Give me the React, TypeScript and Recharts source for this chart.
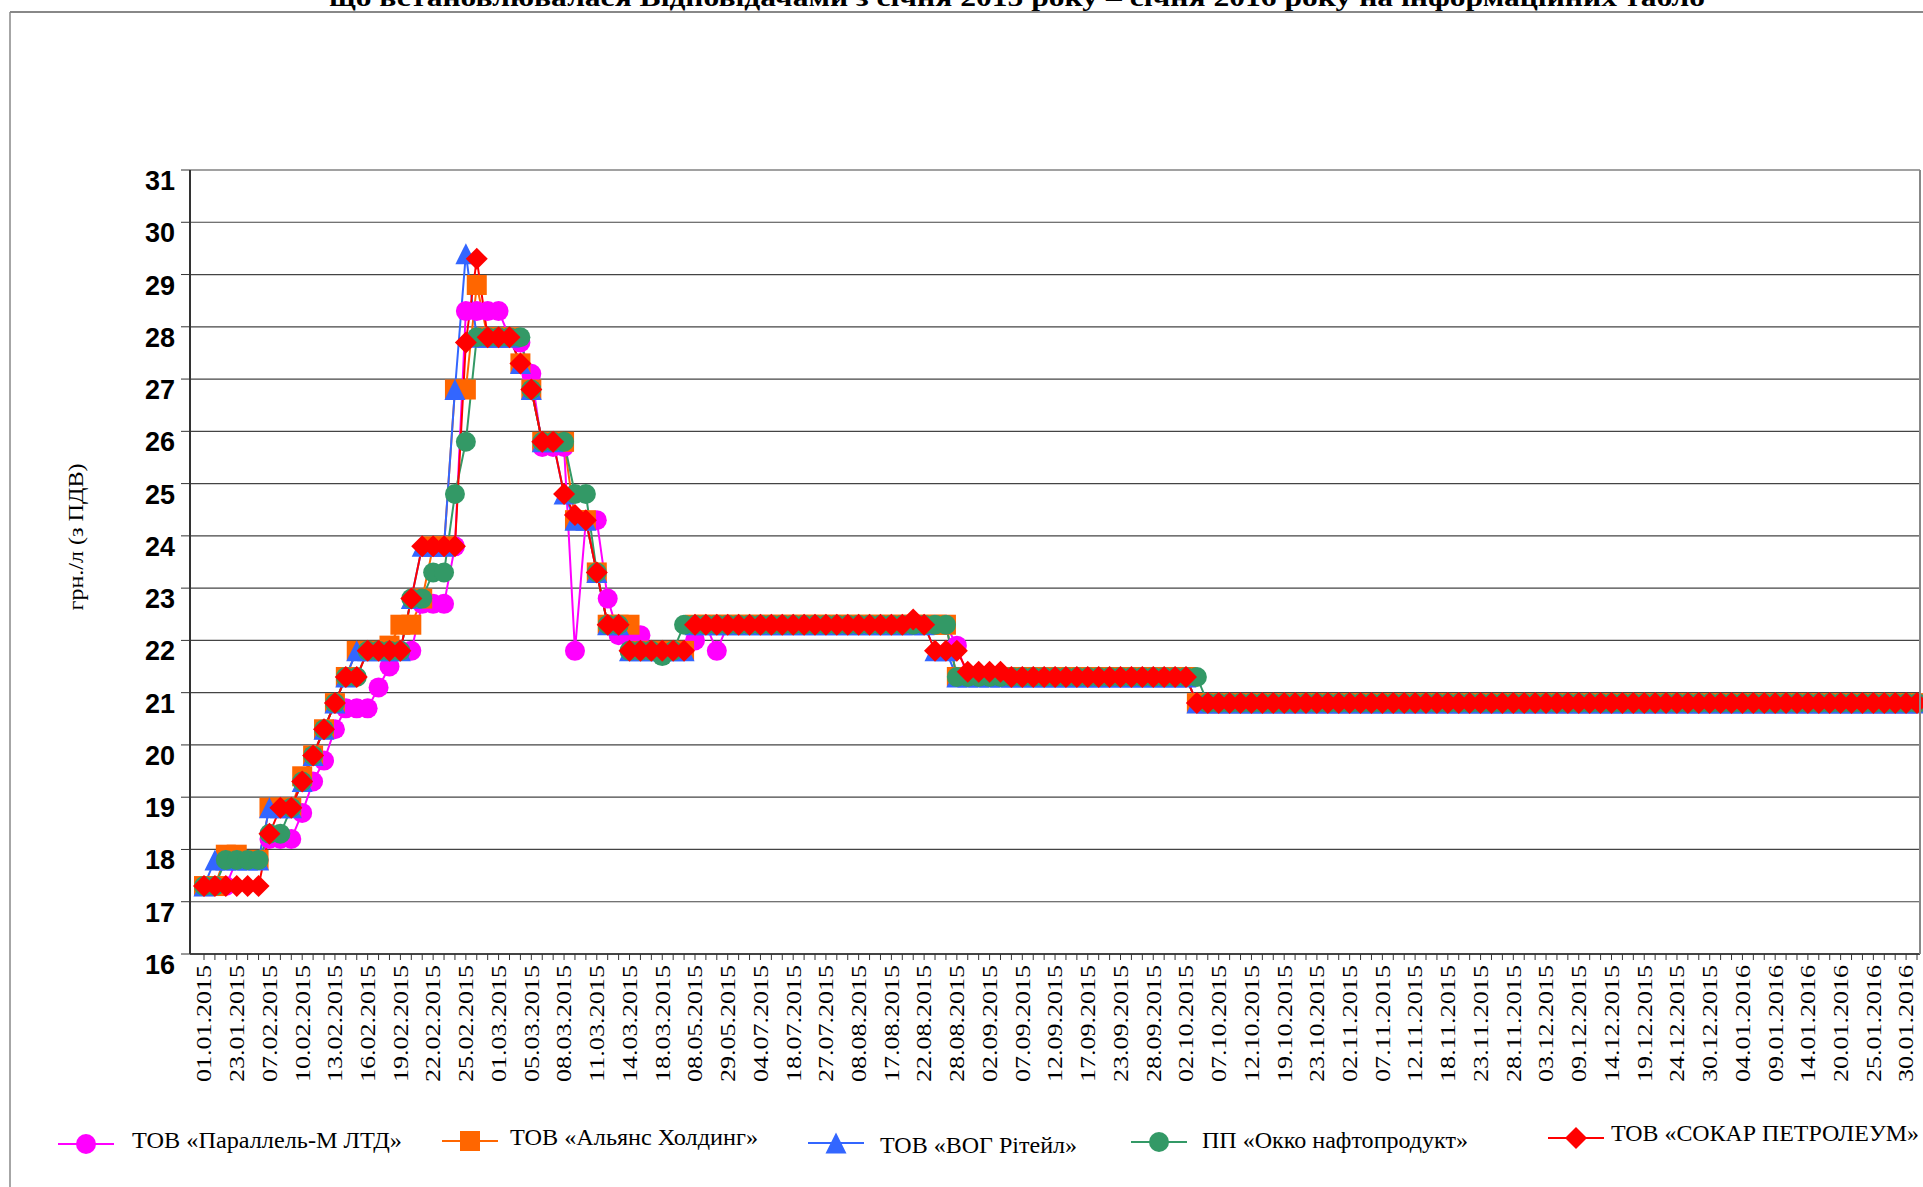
import React from 'react';
import { LineChart, Line, XAxis, YAxis, CartesianGrid } from 'recharts';

// dates on the category axis (only every 3rd one is labelled in the original)
const categories = [
  '01.01.2015', '09.01.2015', '16.01.2015', '23.01.2015', '28.01.2015', '03.02.2015', '07.02.2015', '08.02.2015', '09.02.2015', '10.02.2015',
  '11.02.2015', '12.02.2015', '13.02.2015', '14.02.2015', '15.02.2015', '16.02.2015', '17.02.2015', '18.02.2015', '19.02.2015', '20.02.2015',
  '21.02.2015', '22.02.2015', '23.02.2015', '24.02.2015', '25.02.2015', '26.02.2015', '27.02.2015', '01.03.2015', '02.03.2015', '04.03.2015',
  '05.03.2015', '06.03.2015', '07.03.2015', '08.03.2015', '09.03.2015', '10.03.2015', '11.03.2015', '12.03.2015', '13.03.2015', '14.03.2015',
  '16.03.2015', '17.03.2015', '18.03.2015', '01.04.2015', '21.04.2015', '08.05.2015', '15.05.2015', '22.05.2015', '29.05.2015', '12.06.2015',
  '24.06.2015', '04.07.2015', '09.07.2015', '14.07.2015', '18.07.2015', '21.07.2015', '24.07.2015', '27.07.2015', '31.07.2015', '04.08.2015',
  '08.08.2015', '11.08.2015', '14.08.2015', '17.08.2015', '19.08.2015', '20.08.2015', '22.08.2015', '24.08.2015', '26.08.2015', '28.08.2015',
  '30.08.2015', '31.08.2015', '02.09.2015', '04.09.2015', '05.09.2015', '07.09.2015', '09.09.2015', '10.09.2015', '12.09.2015', '14.09.2015',
  '15.09.2015', '17.09.2015', '19.09.2015', '21.09.2015', '23.09.2015', '25.09.2015', '26.09.2015', '28.09.2015', '29.09.2015', '30.09.2015',
  '02.10.2015', '04.10.2015', '05.10.2015', '07.10.2015', '09.10.2015', '10.10.2015', '12.10.2015', '14.10.2015', '16.10.2015', '19.10.2015',
  '20.10.2015', '22.10.2015', '23.10.2015', '26.10.2015', '30.10.2015', '02.11.2015', '04.11.2015', '05.11.2015', '07.11.2015', '09.11.2015',
  '10.11.2015', '12.11.2015', '14.11.2015', '16.11.2015', '18.11.2015', '19.11.2015', '21.11.2015', '23.11.2015', '25.11.2015', '26.11.2015',
  '28.11.2015', '30.11.2015', '01.12.2015', '03.12.2015', '05.12.2015', '07.12.2015', '09.12.2015', '11.12.2015', '12.12.2015', '14.12.2015',
  '16.12.2015', '17.12.2015', '19.12.2015', '21.12.2015', '22.12.2015', '24.12.2015', '26.12.2015', '28.12.2015', '30.12.2015', '01.01.2016',
  '03.01.2016', '04.01.2016', '06.01.2016', '08.01.2016', '09.01.2016', '11.01.2016', '13.01.2016', '14.01.2016', '16.01.2016', '18.01.2016',
  '20.01.2016', '22.01.2016', '23.01.2016', '25.01.2016', '27.01.2016', '28.01.2016', '30.01.2016', '31.01.2016',
];

// ТОВ «Параллель-М ЛТД»
const paralel = [
  17.3, 17.3, 17.3, 17.8, 17.8, 17.8, 18.2, 18.2, 18.2, 18.7,
  19.3, 19.7, 20.3, 20.7, 20.7, 20.7, 21.1, 21.5, 21.8, 21.8,
  22.7, 22.7, 22.7, 23.8, 28.3, 28.3, 28.3, 28.3, 27.8, 27.7,
  27.1, 25.7, 25.7, 25.7, 21.8, 24.3, 24.3, 22.8, 22.1, 22.1,
  22.1, 21.8, 21.8, 21.8, 21.8, 22.0, 22.3, 21.8, 22.3, 22.3,
  22.3, 22.3, 22.3, 22.3, 22.3, 22.3, 22.3, 22.3, 22.3, 22.3,
  22.3, 22.3, 22.3, 22.3, 22.3, 22.3, 22.3, 22.3, 22.3, 21.9,
  21.3, 21.3, 21.3, 21.3, 21.3, 21.3, 21.3, 21.3, 21.3, 21.3,
  21.3, 21.3, 21.3, 21.3, 21.3, 21.3, 21.3, 21.3, 21.3, 21.3,
  21.3, 20.8, 20.8, 20.8, 20.8, 20.8, 20.8, 20.8, 20.8, 20.8,
  20.8, 20.8, 20.8, 20.8, 20.8, 20.8, 20.8, 20.8, 20.8, 20.8,
  20.8, 20.8, 20.8, 20.8, 20.8, 20.8, 20.8, 20.8, 20.8, 20.8,
  20.8, 20.8, 20.8, 20.8, 20.8, 20.8, 20.8, 20.8, 20.8, 20.8,
  20.8, 20.8, 20.8, 20.8, 20.8, 20.8, 20.8, 20.8, 20.8, 20.8,
  20.8, 20.8, 20.8, 20.8, 20.8, 20.8, 20.8, 20.8, 20.8, 20.8,
  20.8, 20.8, 20.8, 20.8, 20.8, 20.8, 20.8, 20.8,
];

// ТОВ «Альянс Холдинг»
const alyans = [
  17.3, 17.3, 17.9, 17.9, 17.8, 17.8, 18.8, 18.8, 18.8, 19.4,
  19.8, 20.3, 20.8, 21.3, 21.8, 21.8, 21.8, 21.9, 22.3, 22.3,
  22.8, 23.8, 23.8, 26.8, 26.8, 28.8, 27.8, 27.8, 27.8, 27.3,
  26.8, 25.8, 25.8, 25.8, 24.3, 24.3, 23.3, 22.3, 22.3, 22.3,
  21.8, 21.8, 21.8, 21.8, 21.8, 22.3, 22.3, 22.3, 22.3, 22.3,
  22.3, 22.3, 22.3, 22.3, 22.3, 22.3, 22.3, 22.3, 22.3, 22.3,
  22.3, 22.3, 22.3, 22.3, 22.3, 22.3, 22.3, 22.3, 22.3, 21.3,
  21.3, 21.3, 21.3, 21.3, 21.3, 21.3, 21.3, 21.3, 21.3, 21.3,
  21.3, 21.3, 21.3, 21.3, 21.3, 21.3, 21.3, 21.3, 21.3, 21.3,
  21.3, 20.8, 20.8, 20.8, 20.8, 20.8, 20.8, 20.8, 20.8, 20.8,
  20.8, 20.8, 20.8, 20.8, 20.8, 20.8, 20.8, 20.8, 20.8, 20.8,
  20.8, 20.8, 20.8, 20.8, 20.8, 20.8, 20.8, 20.8, 20.8, 20.8,
  20.8, 20.8, 20.8, 20.8, 20.8, 20.8, 20.8, 20.8, 20.8, 20.8,
  20.8, 20.8, 20.8, 20.8, 20.8, 20.8, 20.8, 20.8, 20.8, 20.8,
  20.8, 20.8, 20.8, 20.8, 20.8, 20.8, 20.8, 20.8, 20.8, 20.8,
  20.8, 20.8, 20.8, 20.8, 20.8, 20.8, 20.8, 20.8,
];

// ТОВ «ВОГ Рітейл»
const vog = [
  17.3, 17.8, 17.8, 17.8, 17.8, 17.8, 18.8, 18.8, 18.8, 19.3,
  19.8, 20.3, 20.8, 21.3, 21.8, 21.8, 21.8, 21.8, 21.8, 22.8,
  23.8, 23.8, 23.8, 26.8, 29.4, 27.8, 27.8, 27.8, 27.8, 27.3,
  26.8, 25.8, 25.8, 24.8, 24.3, 24.3, 23.3, 22.3, 22.3, 21.8,
  21.8, 21.8, 21.8, 21.8, 21.8, 22.3, 22.3, 22.3, 22.3, 22.3,
  22.3, 22.3, 22.3, 22.3, 22.3, 22.3, 22.3, 22.3, 22.3, 22.3,
  22.3, 22.3, 22.3, 22.3, 22.3, 22.3, 22.3, 21.8, 21.8, 21.3,
  21.3, 21.3, 21.3, 21.3, 21.3, 21.3, 21.3, 21.3, 21.3, 21.3,
  21.3, 21.3, 21.3, 21.3, 21.3, 21.3, 21.3, 21.3, 21.3, 21.3,
  21.3, 20.8, 20.8, 20.8, 20.8, 20.8, 20.8, 20.8, 20.8, 20.8,
  20.8, 20.8, 20.8, 20.8, 20.8, 20.8, 20.8, 20.8, 20.8, 20.8,
  20.8, 20.8, 20.8, 20.8, 20.8, 20.8, 20.8, 20.8, 20.8, 20.8,
  20.8, 20.8, 20.8, 20.8, 20.8, 20.8, 20.8, 20.8, 20.8, 20.8,
  20.8, 20.8, 20.8, 20.8, 20.8, 20.8, 20.8, 20.8, 20.8, 20.8,
  20.8, 20.8, 20.8, 20.8, 20.8, 20.8, 20.8, 20.8, 20.8, 20.8,
  20.8, 20.8, 20.8, 20.8, 20.8, 20.8, 20.8, 20.8,
];

// ПП «Окко нафтопродукт»
const okko = [
  17.3, 17.3, 17.8, 17.8, 17.8, 17.8, 18.3, 18.3, 18.8, 19.3,
  19.8, 20.3, 20.8, 21.3, 21.3, 21.8, 21.8, 21.8, 21.8, 22.8,
  22.8, 23.3, 23.3, 24.8, 25.8, 27.8, 27.8, 27.8, 27.8, 27.8,
  26.8, 25.8, 25.8, 25.8, 24.8, 24.8, 23.3, 22.3, 22.3, 21.8,
  21.8, 21.8, 21.7, 21.8, 22.3, 22.3, 22.3, 22.3, 22.3, 22.3,
  22.3, 22.3, 22.3, 22.3, 22.3, 22.3, 22.3, 22.3, 22.3, 22.3,
  22.3, 22.3, 22.3, 22.3, 22.3, 22.3, 22.3, 22.3, 22.3, 21.3,
  21.3, 21.3, 21.3, 21.3, 21.3, 21.3, 21.3, 21.3, 21.3, 21.3,
  21.3, 21.3, 21.3, 21.3, 21.3, 21.3, 21.3, 21.3, 21.3, 21.3,
  21.3, 21.3, 20.8, 20.8, 20.8, 20.8, 20.8, 20.8, 20.8, 20.8,
  20.8, 20.8, 20.8, 20.8, 20.8, 20.8, 20.8, 20.8, 20.8, 20.8,
  20.8, 20.8, 20.8, 20.8, 20.8, 20.8, 20.8, 20.8, 20.8, 20.8,
  20.8, 20.8, 20.8, 20.8, 20.8, 20.8, 20.8, 20.8, 20.8, 20.8,
  20.8, 20.8, 20.8, 20.8, 20.8, 20.8, 20.8, 20.8, 20.8, 20.8,
  20.8, 20.8, 20.8, 20.8, 20.8, 20.8, 20.8, 20.8, 20.8, 20.8,
  20.8, 20.8, 20.8, 20.8, 20.8, 20.8, 20.8, 20.8,
];

// ТОВ «СОКАР ПЕТРОЛЕУМ»
const socar = [
  17.3, 17.3, 17.3, 17.3, 17.3, 17.3, 18.3, 18.8, 18.8, 19.3,
  19.8, 20.3, 20.8, 21.3, 21.3, 21.8, 21.8, 21.8, 21.8, 22.8,
  23.8, 23.8, 23.8, 23.8, 27.7, 29.3, 27.8, 27.8, 27.8, 27.3,
  26.8, 25.8, 25.8, 24.8, 24.4, 24.3, 23.3, 22.3, 22.3, 21.8,
  21.8, 21.8, 21.8, 21.8, 21.8, 22.3, 22.3, 22.3, 22.3, 22.3,
  22.3, 22.3, 22.3, 22.3, 22.3, 22.3, 22.3, 22.3, 22.3, 22.3,
  22.3, 22.3, 22.3, 22.3, 22.3, 22.4, 22.3, 21.8, 21.8, 21.8,
  21.4, 21.4, 21.4, 21.4, 21.3, 21.3, 21.3, 21.3, 21.3, 21.3,
  21.3, 21.3, 21.3, 21.3, 21.3, 21.3, 21.3, 21.3, 21.3, 21.3,
  21.3, 20.8, 20.8, 20.8, 20.8, 20.8, 20.8, 20.8, 20.8, 20.8,
  20.8, 20.8, 20.8, 20.8, 20.8, 20.8, 20.8, 20.8, 20.8, 20.8,
  20.8, 20.8, 20.8, 20.8, 20.8, 20.8, 20.8, 20.8, 20.8, 20.8,
  20.8, 20.8, 20.8, 20.8, 20.8, 20.8, 20.8, 20.8, 20.8, 20.8,
  20.8, 20.8, 20.8, 20.8, 20.8, 20.8, 20.8, 20.8, 20.8, 20.8,
  20.8, 20.8, 20.8, 20.8, 20.8, 20.8, 20.8, 20.8, 20.8, 20.8,
  20.8, 20.8, 20.8, 20.8, 20.8, 20.8, 20.8, 20.8,
];

const yTicks = [16, 17, 18, 19, 20, 21, 22, 23, 24, 25, 26, 27, 28, 29, 30, 31];

const titleText = 'що встановлювалася Відповідачами з січня 2015 року – січня 2016 року на інформаційних табло';
const yTitle = 'грн./л (з ПДВ)';

const series = [
  { key: 'paralel', name: 'ТОВ «Параллель-М ЛТД»', color: '#FF00FF', shape: 'circle' },
  { key: 'alyans', name: 'ТОВ «Альянс Холдинг»', color: '#FF6600', shape: 'square' },
  { key: 'vog', name: 'ТОВ «ВОГ Рітейл»', color: '#3366FF', shape: 'triangle' },
  { key: 'okko', name: 'ПП «Окко нафтопродукт»', color: '#339966', shape: 'circle' },
  { key: 'socar', name: 'ТОВ «СОКАР ПЕТРОЛЕУМ»', color: '#FF0000', shape: 'diamond' },
];

const rows = categories.map((date, i) => ({
  date,
  paralel: paralel[i],
  alyans: alyans[i],
  vog: vog[i],
  okko: okko[i],
  socar: socar[i],
}));

const SERIF = '"Liberation Serif", "Times New Roman", serif';
const SANS = '"Liberation Sans", Arial, sans-serif';

function Marker({ shape, cx, cy, color }: { shape: string; cx: number; cy: number; color: string }) {
  if (cx == null || cy == null) return null;
  if (shape === 'square') {
    return <rect x={cx - 10} y={cy - 10} width={20} height={20} fill={color} />;
  }
  if (shape === 'triangle') {
    return <polygon points={`${cx},${cy - 10.5} ${cx + 10.5},${cy + 10.5} ${cx - 10.5},${cy + 10.5}`} fill={color} />;
  }
  if (shape === 'diamond') {
    return <polygon points={`${cx},${cy - 11} ${cx + 11},${cy} ${cx},${cy + 11} ${cx - 11},${cy}`} fill={color} />;
  }
  return <circle cx={cx} cy={cy} r={10} fill={color} />;
}

const makeDot = (shape: string, color: string) => (props: any) => (
  <Marker key={`${shape}-${color}-${props.index}`} shape={shape} cx={props.cx} cy={props.cy} color={color} />
);

const YTick = (props: any) => {
  const { y, payload } = props;
  return (
    <text x={175} y={y + 20} textAnchor="end" fontFamily={SANS} fontWeight="bold" fontSize={27} fill="#000">
      {payload.value}
    </text>
  );
};

const XTick = (props: any) => {
  const { x, payload, index } = props;
  if (index % 3 !== 0) return <g />;
  return (
    <text
      transform={`translate(${x},965) rotate(-90)`}
      textAnchor="end"
      dy="0.35em"
      fontFamily={SERIF}
      fontSize={21}
      textLength={117}
      lengthAdjust="spacingAndGlyphs"
      fill="#000"
    >
      {payload.value}
    </text>
  );
};

// legend placement
const legendPos = [
  { sx: 86, sy: 1144, tx: 132, ty: 1148, tw: 270 },
  { sx: 470, sy: 1141, tx: 510, ty: 1145, tw: 248 },
  { sx: 836, sy: 1143, tx: 880, ty: 1153, tw: 197 },
  { sx: 1159, sy: 1142, tx: 1202, ty: 1148, tw: 266 },
  { sx: 1576, sy: 1138, tx: 1611, ty: 1141, tw: 308 },
];

export default function App() {
  return (
    <div style={{ position: 'absolute', left: 0, top: 0, width: 1923, height: 1187, background: '#fff', overflow: 'hidden' }}>
      <LineChart width={1923} height={1187} data={rows} margin={{ top: 170, right: 3, left: 0, bottom: 0 }}>
        <CartesianGrid vertical={false} stroke="#444" strokeWidth={1.2} />
        <XAxis
          dataKey="date"
          interval={0}
          height={233}
          padding={{ left: 14, right: 3 }}
          tick={XTick}
          tickSize={6}
          tickLine={{ stroke: '#333' }}
          axisLine={{ stroke: '#444', strokeWidth: 2 }}
        />
        <YAxis
          type="number"
          domain={[16, 31]}
          ticks={yTicks}
          width={190}
          tick={YTick}
          tickSize={9}
          tickLine={{ stroke: '#333' }}
          axisLine={{ stroke: '#333', strokeWidth: 2 }}
          interval={0}
        />
        {series.map((s) => (
          <Line
            key={s.key}
            type="linear"
            dataKey={s.key}
            name={s.name}
            stroke={s.color}
            strokeWidth={2}
            dot={makeDot(s.shape, s.color)}
            activeDot={false}
            isAnimationActive={false}
          />
        ))}
      </LineChart>

      <svg width={1923} height={1187} style={{ position: 'absolute', left: 0, top: 0, pointerEvents: 'none' }}>
        {/* outer frame */}
        <line x1={10} y1={12} x2={1923} y2={12} stroke="#888" strokeWidth={2} />
        <line x1={10} y1={12} x2={10} y2={1187} stroke="#888" strokeWidth={1.5} />
        {/* right edge of plot area */}
        <line x1={1920} y1={170} x2={1920} y2={954} stroke="#888" strokeWidth={2} />

        <text
          x={1017}
          y={6}
          textAnchor="middle"
          fontFamily={SERIF}
          fontWeight="bold"
          fontSize={26}
          textLength={1376}
          lengthAdjust="spacingAndGlyphs"
          fill="#000"
        >
          {titleText}
        </text>

        <text
          transform="translate(83,537) rotate(-90)"
          textAnchor="middle"
          fontFamily={SERIF}
          fontSize={22}
          textLength={147}
          lengthAdjust="spacingAndGlyphs"
          fill="#000"
        >
          {yTitle}
        </text>

        {series.map((s, i) => {
          const p = legendPos[i];
          return (
            <g key={s.key}>
              <line x1={p.sx - 28} y1={p.sy} x2={p.sx + 28} y2={p.sy} stroke={s.color} strokeWidth={2} />
              <Marker shape={s.shape} cx={p.sx} cy={p.sy} color={s.color} />
              <text
                x={p.tx}
                y={p.ty}
                fontFamily={SERIF}
                fontSize={24}
                textLength={p.tw}
                lengthAdjust="spacingAndGlyphs"
                fill="#000"
              >
                {s.name}
              </text>
            </g>
          );
        })}
      </svg>
    </div>
  );
}
